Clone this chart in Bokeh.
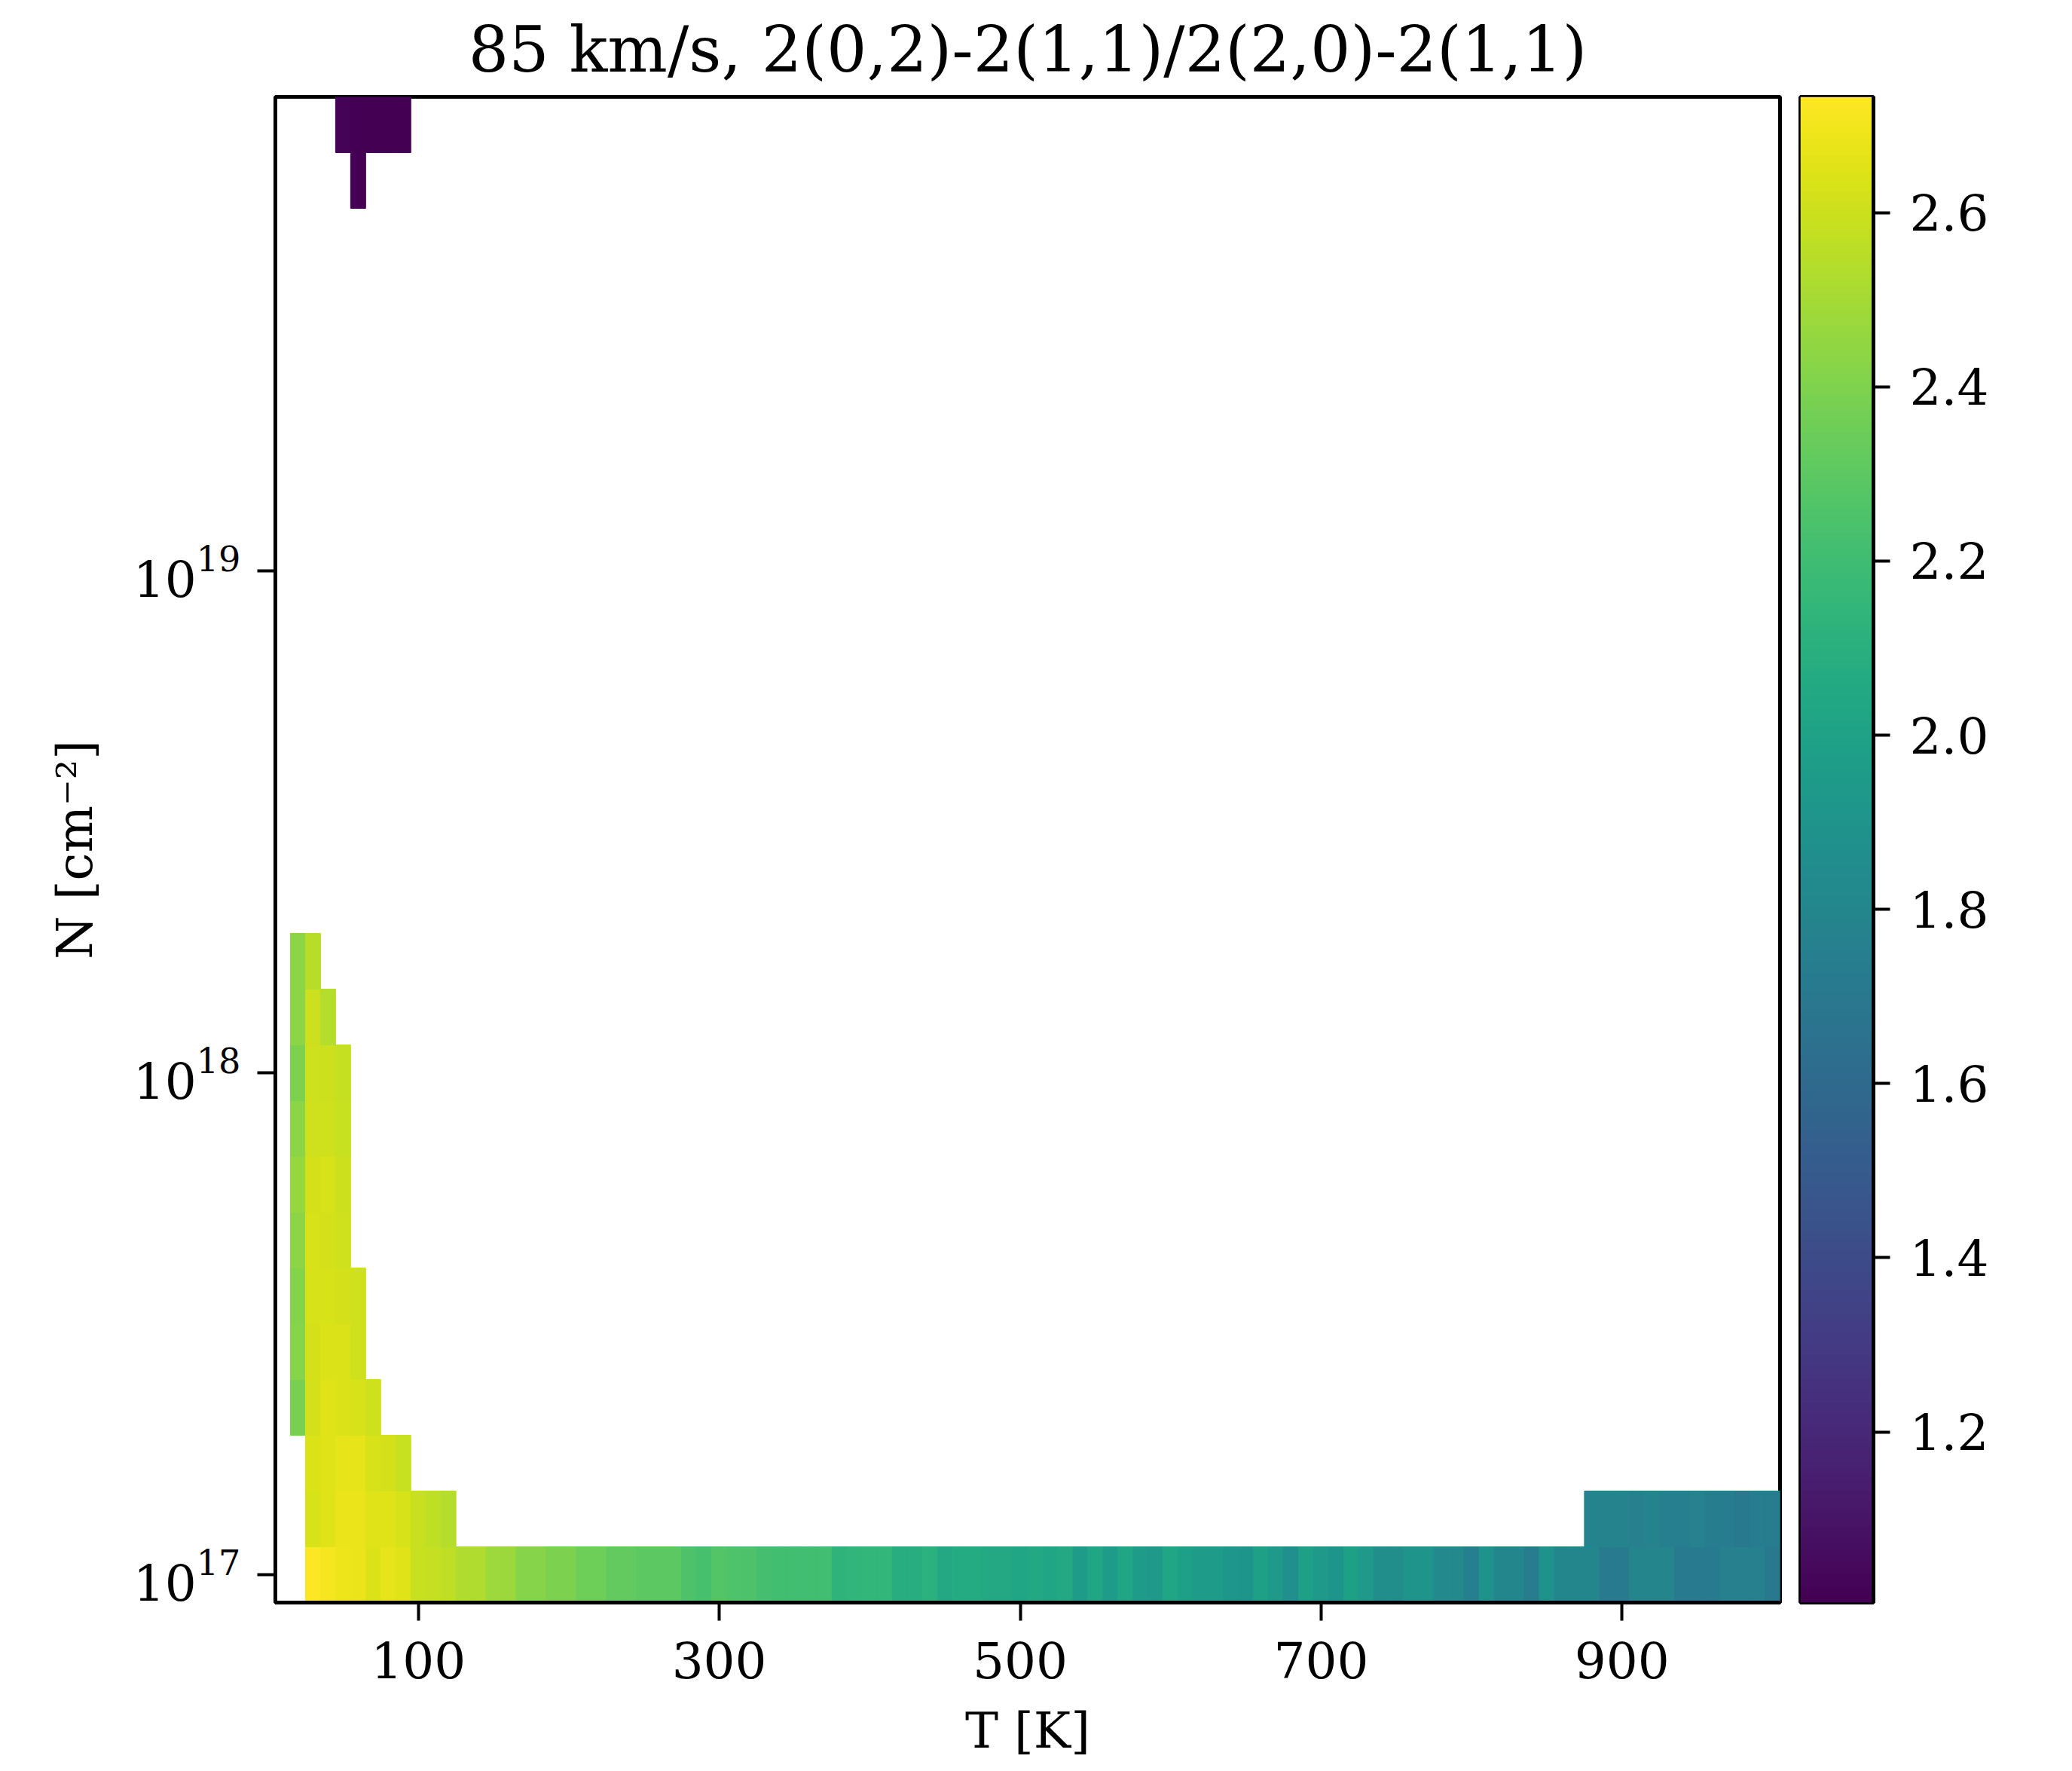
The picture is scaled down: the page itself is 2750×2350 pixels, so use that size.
import numpy as np
from bokeh.plotting import figure
from bokeh.models import (Range1d, FixedTicker, LinearColorMapper,
                          ColumnDataSource, NumeralTickFormatter)
from bokeh.transform import linear_cmap
from bokeh.palettes import Viridis256
from bokeh.layouts import row
from bokeh.embed import file_html
from bokeh.resources import INLINE

# ---------------- data ----------------
T_STEP = 10            # K, grid step in temperature
N_BASE_EXP = 17        # log10 N of the lowest row
N_STEP_DEX = 1.0 / 9   # dex per row
VMIN, VMAX = 1.004, 2.733

x_ticks = [100, 300, 500, 700, 900]
y_ticks = [1e17, 1e18, 1e19]
cbar_ticks = [1.2, 1.4, 1.6, 1.8, 2.0, 2.2, 2.4, 2.6]

# row index k (N = 10**(17 + k/9)), first T of the run, values of the ratio
row00_k, row00_T0 = 0, 30
row00 = [2.73, 2.71, 2.69, 2.68, 2.64, 2.67, 2.65, 2.59, 2.58, 2.57,
         2.53, 2.53, 2.48, 2.47, 2.42, 2.42, 2.39, 2.39, 2.35, 2.35,
         2.32, 2.32, 2.30, 2.30, 2.30, 2.25, 2.23, 2.27, 2.26, 2.25,
         2.22, 2.21, 2.21, 2.21, 2.21, 2.13, 2.14, 2.15, 2.15, 2.08,
         2.08, 2.11, 2.05, 2.07, 2.07, 2.05, 2.05, 2.02, 2.05, 2.02,
         2.05, 1.96, 2.02, 1.95, 2.02, 1.95, 1.93, 2.02, 1.99, 1.96,
         1.96, 1.92, 1.90, 1.99, 1.94, 1.87, 1.99, 1.94, 1.90, 1.99,
         1.94, 1.86, 1.86, 1.90, 1.90, 1.82, 1.82, 1.75, 1.89, 1.80,
         1.80, 1.74, 1.89, 1.80, 1.80, 1.80, 1.72, 1.72, 1.79, 1.79,
         1.79, 1.71, 1.71, 1.71, 1.76, 1.76, 1.76, 1.70]
row01a_k, row01a_T0 = 1, 30
row01a = [2.63, 2.65, 2.68, 2.68, 2.65, 2.65, 2.63, 2.59, 2.57, 2.54]
row01b_k, row01b_T0 = 1, 880
row01b = [1.78, 1.78, 1.78, 1.76, 1.78, 1.75, 1.75, 1.77, 1.74, 1.74,
          1.70, 1.73, 1.73]
row02_k, row02_T0 = 2, 30
row02 = [2.64, 2.65, 2.67, 2.67, 2.63, 2.62, 2.59]
row03_k, row03_T0 = 3, 20
row03 = [2.38, 2.62, 2.65, 2.64, 2.63, 2.61]
row04_k, row04_T0 = 4, 20
row04 = [2.42, 2.62, 2.64, 2.64, 2.61]
row05_k, row05_T0 = 5, 20
row05 = [2.41, 2.63, 2.63, 2.62, 2.61]
row06_k, row06_T0 = 6, 20
row06 = [2.43, 2.63, 2.62, 2.61]
row07_k, row07_T0 = 7, 20
row07 = [2.46, 2.62, 2.63, 2.60]
row08_k, row08_T0 = 8, 20
row08 = [2.43, 2.61, 2.61, 2.59]
row09_k, row09_T0 = 9, 20
row09 = [2.39, 2.61, 2.60, 2.58]
row10_k, row10_T0 = 10, 20
row10 = [2.43, 2.60, 2.54]
row11_k, row11_T0 = 11, 20
row11 = [2.43, 2.55]
row25_k, row25_T0 = 25, 60
row25 = [1.01]
row26_k, row26_T0 = 26, 50
row26 = [1.02, 1.01, 1.01, 1.01, 1.01]

runs = [(row00_k, row00_T0, row00), (row01a_k, row01a_T0, row01a),
        (row01b_k, row01b_T0, row01b), (row02_k, row02_T0, row02),
        (row03_k, row03_T0, row03), (row04_k, row04_T0, row04),
        (row05_k, row05_T0, row05), (row06_k, row06_T0, row06),
        (row07_k, row07_T0, row07), (row08_k, row08_T0, row08),
        (row09_k, row09_T0, row09), (row10_k, row10_T0, row10),
        (row11_k, row11_T0, row11), (row25_k, row25_T0, row25),
        (row26_k, row26_T0, row26)]

left, right, bottom, top, vals = [], [], [], [], []
for k, t0, vs in runs:
    e = N_BASE_EXP + k * N_STEP_DEX
    for i, v in enumerate(vs):
        t = t0 + i * T_STEP
        left.append(t - T_STEP / 2)
        right.append(t + T_STEP / 2)
        bottom.append(10 ** (e - N_STEP_DEX / 2))
        top.append(10 ** (e + N_STEP_DEX / 2))
        vals.append(v)

src = ColumnDataSource(dict(left=left, right=right, bottom=bottom, top=top, v=vals))

# ---------------- main figure ----------------
FONT = "DejaVu Serif"
TICK_PX = "66px"

x_lo, x_hi = 5, 1005
y_lo = 10 ** (N_BASE_EXP - N_STEP_DEX / 2)
y_hi = 10 ** (N_BASE_EXP + 26 * N_STEP_DEX + N_STEP_DEX / 2)

H = 2348
p = figure(width=2386, height=H, x_range=Range1d(x_lo, x_hi),
           y_range=Range1d(y_lo, y_hi), y_axis_type="log",
           output_backend="svg", toolbar_location=None,
           min_border_left=365, min_border_right=24,
           min_border_top=128, min_border_bottom=H - 128 - 1998,
           title="85 km/s, 2(0,2)-2(1,1)/2(2,0)-2(1,1)")
p.background_fill_color = "white"
p.border_fill_color = "white"
p.grid.visible = False
p.outline_line_color = "black"
p.outline_line_width = 5

p.title.text_font = FONT
p.title.text_font_size = "84px"
p.title.text_font_style = "normal"
p.title.text_color = "black"
p.title.align = "center"
p.title.standoff = 28

cmap = linear_cmap("v", Viridis256, VMIN, VMAX)
p.quad(left="left", right="right", bottom="bottom", top="top", source=src,
       fill_color=cmap, line_color=cmap, line_width=1)

p.xaxis.ticker = FixedTicker(ticks=x_ticks, minor_ticks=[])
p.yaxis.ticker = FixedTicker(ticks=y_ticks, minor_ticks=[])
for ax in (p.xaxis[0], p.yaxis[0]):
    ax.axis_line_color = "black"
    ax.axis_line_width = 5
    ax.major_tick_line_color = "black"
    ax.major_tick_line_width = 4
    ax.major_tick_out = 24
    ax.major_tick_in = 0
    ax.minor_tick_line_color = None
    ax.major_label_text_font = FONT
    ax.major_label_text_font_size = TICK_PX
    ax.major_label_text_color = "black"
    ax.axis_label_text_font = FONT
    ax.axis_label_text_font_size = TICK_PX
    ax.axis_label_text_font_style = "normal"
    ax.axis_label_text_color = "black"
p.xaxis.major_label_standoff = 28
p.yaxis.major_label_standoff = 22
p.xaxis.axis_label = "T [K]"
p.yaxis.axis_label = "N [cm\u207b\u00b2]"
p.xaxis.axis_label_standoff = 28
p.yaxis.axis_label_standoff = 36

# ---------------- colour bar ----------------
cb = figure(width=330, height=H, x_range=Range1d(0, 1),
            y_range=Range1d(VMIN, VMAX), y_axis_location="right",
            x_axis_location=None, output_backend="svg", toolbar_location=None,
            min_border_left=3, min_border_right=230,
            min_border_top=128, min_border_bottom=H - 128 - 1998)
cb.background_fill_color = "white"
cb.border_fill_color = "white"
cb.grid.visible = False
cb.outline_line_color = "black"
cb.outline_line_width = 5
mapper = LinearColorMapper(palette=Viridis256, low=VMIN, high=VMAX)
grad = np.linspace(VMIN, VMAX, 512).reshape(512, 1)
cb.image(image=[grad], x=0, y=VMIN, dw=1, dh=VMAX - VMIN, color_mapper=mapper)
ax = cb.yaxis[0]
ax.ticker = FixedTicker(ticks=cbar_ticks, minor_ticks=[])
ax.formatter = NumeralTickFormatter(format="0.0")
ax.axis_line_color = "black"
ax.axis_line_width = 5
ax.major_tick_line_color = "black"
ax.major_tick_line_width = 4
ax.major_tick_out = 22
ax.major_tick_in = 0
ax.minor_tick_line_color = None
ax.major_label_text_font = FONT
ax.major_label_text_font_size = TICK_PX
ax.major_label_text_color = "black"
ax.major_label_standoff = 26

layout = row(p, cb)
open("out.html", "w").write(file_html(layout, INLINE))
